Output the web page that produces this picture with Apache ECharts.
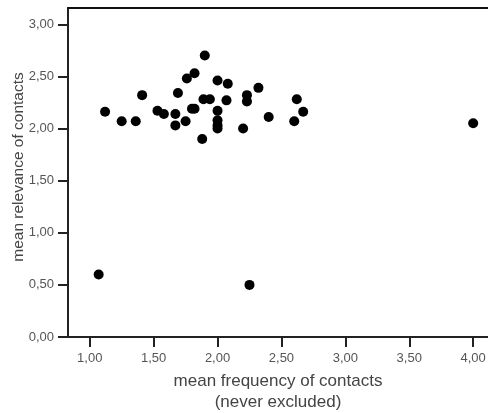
<!DOCTYPE html>
<html>
<head>
<meta charset="utf-8">
<script src="https://cdn.jsdelivr.net/npm/echarts@6/dist/echarts.min.js"></script>
<style>
  html, body { margin: 0; padding: 0; background: #fff; }
  #chart { width: 488px; height: 413px; }
</style>
</head>
<body>
<div id="chart"></div>
<script>
// mean frequency (x) and mean relevance (y), one entry per respondent
const frequency = [
  1.12, 1.25, 1.36, 1.41, 1.53, 1.58, 1.67, 1.67, 1.69, 1.75,
  1.80, 1.82, 1.76, 1.82, 1.90, 1.88, 1.89, 1.94, 2.00, 2.00,
  2.00, 2.00, 2.00, 2.08, 2.07, 2.20, 2.23, 2.23, 2.32, 2.40,
  2.60, 2.62, 2.67, 4.00, 1.07, 2.25
];
const relevance = [
  2.16, 2.07, 2.07, 2.32, 2.17, 2.14, 2.14, 2.03, 2.34, 2.07,
  2.19, 2.19, 2.48, 2.53, 2.70, 1.90, 2.28, 2.28, 2.46, 2.17,
  2.08, 2.03, 2.00, 2.43, 2.27, 2.00, 2.32, 2.26, 2.39, 2.11,
  2.07, 2.28, 2.16, 2.05, 0.60, 0.50
];
const xTicks = [1, 1.5, 2, 2.5, 3, 3.5, 4];
const yTicks = [0, 0.5, 1, 1.5, 2, 2.5, 3];

const fmt = v => v.toFixed(2).replace('.', ',');
const X_MIN = 0.83, X_MAX = 4.116;

const chart = echarts.init(document.getElementById('chart'));
chart.setOption({
  animation: false,
  grid: { left: 68, top: 8, right: 0, bottom: 76, outerBoundsMode: 'none' },
  xAxis: [{
    type: 'value',
    min: X_MIN, max: X_MAX,
    splitLine: { show: false },
    axisLine: { onZero: false, lineStyle: { color: '#222', width: 2 } },
    axisTick: { customValues: xTicks, length: 10, lineStyle: { color: '#222', width: 2 } },
    axisLabel: { customValues: xTicks, formatter: fmt, color: '#555', fontSize: 13, fontFamily: 'Liberation Sans', margin: 15 },
    name: 'mean frequency of contacts\n(never excluded)',
    nameLocation: 'middle',
    nameGap: 34,
    nameMoveOverlap: false,
    nameTextStyle: { color: '#444', fontSize: 17, fontFamily: 'Liberation Sans', lineHeight: 21 }
  }, {
    // top border of the frame
    type: 'value', position: 'top',
    min: X_MIN, max: X_MAX,
    splitLine: { show: false }, axisTick: { show: false }, axisLabel: { show: false },
    axisLine: { onZero: false, lineStyle: { color: '#111', width: 2 } }
  }],
  yAxis: {
    type: 'value',
    min: 0, max: 3.156,
    splitLine: { show: false },
    axisLine: { lineStyle: { color: '#222', width: 2 } },
    axisTick: { customValues: yTicks, length: 10, lineStyle: { color: '#222', width: 2 } },
    axisLabel: { customValues: yTicks, formatter: fmt, color: '#555', fontSize: 13, fontFamily: 'Liberation Sans', margin: 14 },
    name: 'mean relevance of contacts',
    nameLocation: 'middle',
    nameGap: 41,
    nameMoveOverlap: false,
    nameTextStyle: { color: '#444', fontSize: 15.5, fontFamily: 'Liberation Sans', padding: [0, 0, 0, 11] }
  },
  series: [{
    type: 'scatter',
    symbolSize: 10,
    itemStyle: { color: '#000', opacity: 1 },
    data: frequency.map((x, i) => [x, relevance[i]])
  }]
});
</script>
</body>
</html>
